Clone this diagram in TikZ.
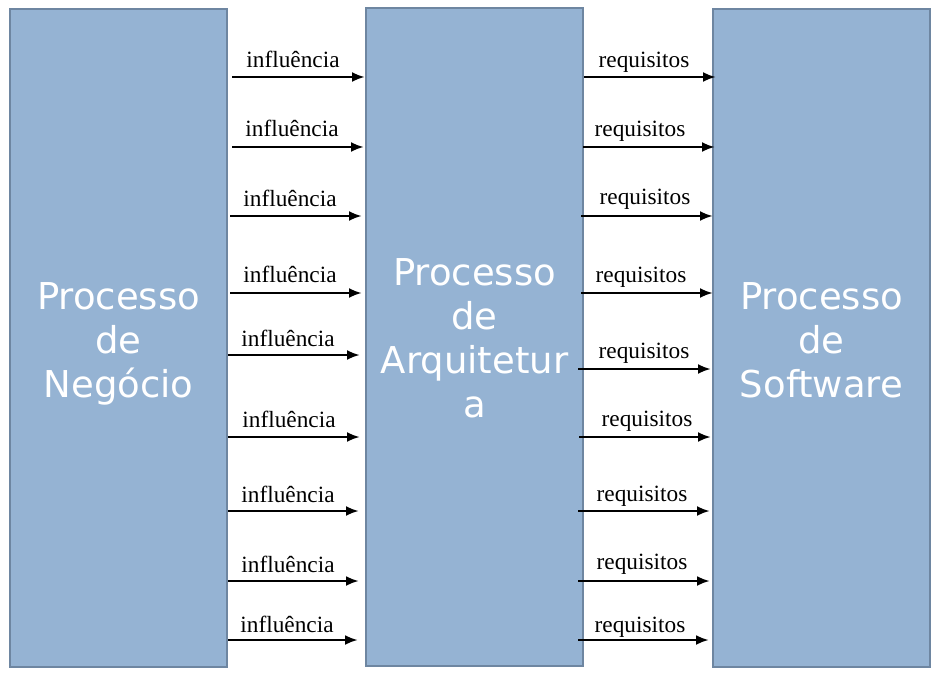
\documentclass[tikz,border=0pt]{standalone}
\usepackage{fontspec}
\setmainfont{Liberation Serif}
\newfontfamily\boxfont{DejaVu Sans}
\usetikzlibrary{arrows.meta}
\definecolor{boxfill}{HTML}{95B3D3}
\definecolor{boxdraw}{HTML}{6E86A1}
\begin{document}
\begin{tikzpicture}[x=1pt,y=-1pt,
  procbox/.style={draw=boxdraw,fill=boxfill,line width=1.5pt},
  proctext/.style={text=white,font=\boxfont\fontsize{37}{44}\selectfont,align=center},
  flow/.style={line width=2.8pt,-{Latex[length=13pt,width=10pt]}},
  lbl/.style={font=\fontsize{23.3}{26}\selectfont,anchor=base,inner sep=0pt}]
\useasboundingbox (0,0) rectangle (939,676);
% boxes
\draw[procbox] (10,9) rectangle (227,667);
\draw[procbox] (366,8) rectangle (583,666);
\draw[procbox] (713,9) rectangle (930,667);
\node[proctext] (neg) at (118.5,344) {Processo\\de\\Negócio};
\node[proctext] (arq) at (474.5,338.5) {Processo\\de\\Arquitetur\\a};
\node[proctext] (sw) at (821.5,340.5) {Processo\\de\\Software};
% left arrows
\foreach \i/\xa/\xb/\y/\lx/\ly in {1/232/365/77/293/61, 2/232/364/147/292/130, 3/230/362/216/290/200, 4/230/362/293/290/276, 5/228/360/355/288/339, 6/228/360/437/289/420, 7/228/359/511/288/495, 8/228/359/581/288/565, 9/228/358/640/287/625}{
  \coordinate (la\i) at (\xa,\y);
  \coordinate (lb\i) at (\xb,\y);
  \draw[flow] (la\i) -- (lb\i);
  \node[lbl] (li\i) at (\lx,\ly+7) {influência};
}
% right arrows
\foreach \i/\xa/\xb/\y/\lx/\ly in {1/584/716/77/644/61, 2/583/715/147/640/130, 3/581/713/216/645/198, 4/581/713/293/641/275, 5/578/711/369/644/351, 6/579/711/437/647/419, 7/578/710/511/642/494, 8/578/710/581/642/562, 9/578/709/640/640/625}{
  \coordinate (ra\i) at (\xa,\y);
  \coordinate (rb\i) at (\xb,\y);
  \draw[flow] (ra\i) -- (rb\i);
  \node[lbl] (ri\i) at (\lx,\ly+7) {requisitos};
}
\end{tikzpicture}
\end{document}
